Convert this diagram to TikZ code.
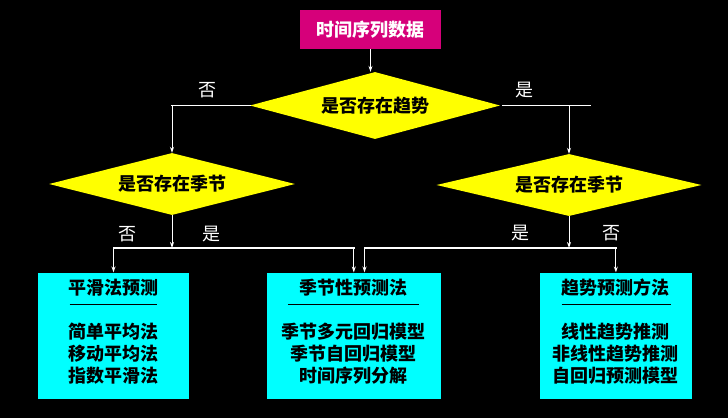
\documentclass[tikz,border=0pt]{standalone}
\usepackage{fontspec}
\newfontfamily\cjk{Noto Sans CJK SC}
\usetikzlibrary{shapes.geometric,arrows.meta}
\definecolor{datamagenta}{RGB}{214,0,122}
\definecolor{askyellow}{RGB}{255,255,0}
\definecolor{methodcyan}{RGB}{0,255,255}
\tikzset{
  decision/.style={diamond, fill=askyellow, aspect=3.7, inner sep=0pt, font=\cjk\bfseries\fontsize{18}{22}\selectfont},
  method/.style={fill=methodcyan, minimum height=126.3pt, inner sep=0pt},
  branch/.style={white, line width=1.6pt, line cap=rect},
  flow/.style={white, line width=0.9pt, -{Stealth[length=6pt,width=4pt]}},
  answer/.style={white, font=\cjk\fontsize{18}{22}\selectfont},
  methodtext/.style={font=\cjk\bfseries\fontsize{18}{22}\selectfont, align=center},
  rule/.style={black, line width=1pt}
}
\begin{document}
\begin{tikzpicture}[x=1pt,y=-1pt]
    \fill[black] (0,0) rectangle (728,418);
    \useasboundingbox (0,0) rectangle (728,418);
    % start and decisions
    \node[fill=datamagenta, minimum width=141pt, minimum height=39pt, text=white, font=\cjk\bfseries\fontsize{18}{22}\selectfont] (data) at (370.5,29.5) {时间序列数据};
    \node[decision, minimum width=250pt, minimum height=67pt] (trend) at (375,105.5) {是否存在趋势};
    \node[decision, minimum width=246pt, minimum height=62pt] (seasonL) at (172,184) {是否存在季节};
    \node[decision, minimum width=265pt, minimum height=62pt] (seasonR) at (569,185) {是否存在季节};
    % method boxes
    \node[method, minimum width=151pt] (smooth) at (113.5,335.8) {};
    \node[method, minimum width=173.6pt] (seasonal) at (353.8,335.8) {};
    \node[method, minimum width=151.7pt] (trendbox) at (615.9,335.8) {};
    % top connectors
    \draw[flow] (data.south) -- (data.south |- trend.north);
    \draw[branch] (trend.west) -- (trend.west -| seasonL.north);
    \draw[flow] (trend.west -| seasonL.north) -- (seasonL.north);
    \coordinate (trendR) at (590,105.5);
    \draw[branch] ([xshift=3pt]trend.east) -- (trendR);
    \draw[flow] (trend.east -| seasonR.north) -- (seasonR.north);
    \node[answer] (noTop) at (207,90) {否};
    \node[answer] (yesTop) at (524,90) {是};
    % left decision
    \coordinate (forkL) at (172,248);
    \draw[flow] (seasonL.south) -- (forkL);
    \draw[branch] (smooth.north |- forkL) -- (seasonal.north |- forkL);
    \draw[flow] (smooth.north |- forkL) -- (smooth.north);
    \draw[flow] (seasonal.north |- forkL) -- (seasonal.north);
    \node[answer] (noL) at (127,234) {否};
    \node[answer] (yesL) at (211,234) {是};
    % right decision
    \coordinate (forkR) at (569,248);
    \coordinate (seasonalR) at (364.5,248);
    \draw[flow] (seasonR.south) -- (forkR);
    \draw[branch] (seasonalR) -- (trendbox.north |- forkR);
    \draw[flow] (seasonalR) -- (seasonalR |- seasonal.north);
    \draw[flow] (trendbox.north |- forkR) -- (trendbox.north);
    \node[answer] (yesR) at (520,233) {是};
    \node[answer] (noR) at (611,233) {否};
    % box texts
    \node[methodtext] (smoothT) at (113.5,288) {平滑法预测};
    \draw[rule] (69.6,304) -- (157,304);
    \node[methodtext] (smoothL) at (113.5,354) {简单平均法\\移动平均法\\指数平滑法};
    \node[methodtext] (seasonalT) at (353.8,288) {季节性预测法};
    \draw[rule] (287.8,304) -- (418.8,304);
    \node[methodtext] (seasonalL) at (353.8,354) {季节多元回归模型\\季节自回归模型\\时间序列分解};
    \node[methodtext] (trendT) at (615.9,288) {趋势预测方法};
    \draw[rule] (561.7,304) -- (670.8,304);
    \node[methodtext] (trendL) at (615.9,354) {线性趋势推测\\非线性趋势推测\\自回归预测模型};
\end{tikzpicture}
\end{document}
